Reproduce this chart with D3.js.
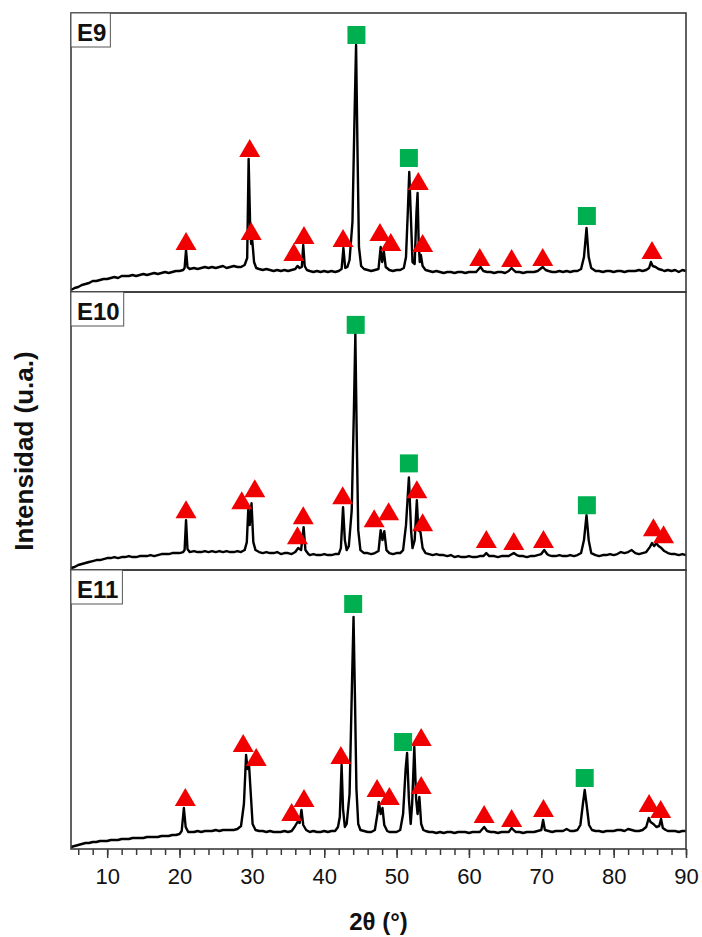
<!DOCTYPE html>
<html>
<head>
<meta charset="utf-8">
<script src="https://cdn.jsdelivr.net/npm/d3@7"></script>
<style>
  html, body { margin: 0; padding: 0; background: #fff; }
  svg { display: block; }
  text { font-family: "Liberation Sans", Arial, Helvetica, sans-serif; }
</style>
</head>
<body>
<div id="chart"></div>
<script>
// Diffraction patterns: [2θ (°), intensity (a.u.)]
const e9Trace = [[5,2],[5.5,4],[6,5],[6.5,7],[7,8],[7.5,9],[8,11],[8.5,11],[9,12],[9.5,13],[10,13],[10.5,14],[11,15],[11.5,14],[12,16],[12.5,16],[13,16],[13.5,17],[14,16],[14.5,17],[15,18],[15.5,17],[16,18],[16.5,19],[17,18],[17.5,19],[18,20],[18.5,19],[19,20],[19.5,21],[20,21],[20.5,22],[20.7,24],[20.9,42],[21.1,25],[21.4,23],[22,24],[22.5,23],[23,24],[23.5,25],[24,24],[24.5,25],[25,24],[25.5,25],[26,26],[26.5,24],[27,25],[27.5,26],[28,25],[28.5,25],[29,27],[29.35,34],[29.55,133],[29.75,70],[29.9,48],[30.05,52],[30.3,30],[30.6,24],[31,23],[31.5,22],[32,23],[32.5,22],[33,21],[33.5,22],[34,21],[34.5,22],[35,21],[35.5,22],[36,23],[36.3,26],[36.6,24],[36.9,25],[37.1,47],[37.3,26],[37.6,22],[38,21],[38.5,20],[39,21],[39.5,20],[40,21],[40.5,20],[41,21],[41.5,20],[42,21],[42.4,23],[42.65,44],[42.9,24],[43.2,25],[43.5,32],[43.9,70],[44.2,180],[44.4,247],[44.6,140],[44.8,45],[45.1,26],[45.5,23],[46,22],[46.5,21],[47,22],[47.5,23],[47.8,45],[48.0,30],[48.25,40],[48.5,25],[49,22],[49.5,21],[50,22],[50.5,22],[51,24],[51.3,35],[51.55,80],[51.75,120],[51.95,80],[52.2,30],[52.5,28],[52.75,80],[52.9,99],[53.05,50],[53.2,30],[53.35,37],[53.6,26],[54,22],[54.5,21],[55,20],[55.5,21],[56,20],[56.5,19],[57,20],[57.5,20],[58,19],[58.5,20],[59,20],[59.5,19],[60,20],[60.5,20],[61,20],[61.6,25],[62,21],[62.5,20],[63,20],[63.5,19],[64,20],[64.5,20],[65,19],[65.5,21],[65.9,24],[66.3,21],[66.5,20],[67,20],[67.5,19],[68,20],[68.5,20],[69,20],[69.5,21],[70.2,25],[70.6,22],[71,21],[71.5,20],[72,20],[72.5,21],[73,20],[73.5,21],[74,20],[74.5,21],[75,21],[75.5,23],[75.9,35],[76.25,64],[76.55,35],[76.9,24],[77.5,21],[78,21],[78.5,20],[79,21],[79.5,21],[80,20],[80.5,21],[81,21],[81.5,20],[82,21],[82.5,21],[83,21],[83.5,22],[84,21],[84.5,22],[84.9,24],[85.15,30],[85.4,26],[85.8,25],[86.2,23],[86.7,22],[87,21],[87.5,22],[88,21],[88.5,22],[89,20],[89.5,22],[90,21]];

const e10Trace = [[5,2],[5.5,3],[6,5],[6.5,6],[7,7],[7.5,8],[8,9],[8.5,10],[9,10],[9.5,11],[10,12],[10.5,12],[11,13],[11.5,12],[12,13],[12.5,13],[13,14],[13.5,13],[14,13],[14.5,14],[15,14],[15.5,14],[16,15],[16.5,14],[17,15],[17.5,16],[18,16],[18.5,16],[19,17],[19.5,17],[20,17],[20.5,18],[20.7,20],[20.9,50],[21.1,21],[21.4,18],[22,19],[22.5,18],[23,18],[23.5,19],[24,18],[24.5,19],[25,18],[25.5,19],[26,18],[26.5,19],[27,18],[27.5,18],[28,19],[28.5,18],[29,20],[29.3,28],[29.5,61],[29.7,45],[29.95,67],[30.2,28],[30.5,20],[31,18],[31.5,17],[32,18],[32.5,17],[33,17],[33.5,18],[34,16],[34.5,17],[35,17],[35.5,16],[36,18],[36.4,22],[36.8,20],[37.15,43],[37.4,20],[37.8,16],[38,15],[38.5,16],[39,15],[39.5,15],[40,16],[40.5,15],[41,15],[41.5,16],[42,16],[42.3,22],[42.6,63],[42.85,30],[43.1,20],[43.4,24],[43.8,60],[44.1,160],[44.3,237],[44.5,130],[44.7,40],[45.0,20],[45.5,17],[46,17],[46.5,16],[47,17],[47.5,19],[47.8,40],[48.05,30],[48.3,39],[48.6,20],[49,17],[49.5,16],[50,17],[50.5,17],[50.9,20],[51.3,45],[51.7,93],[52.0,40],[52.2,22],[52.5,30],[52.8,70],[53.0,40],[53.3,38],[53.6,22],[54,17],[54.5,16],[55,15],[55.5,16],[56,15],[56.5,15],[57,14],[57.5,15],[58,13],[58.5,14],[59,13],[59.5,13],[60,14],[60.5,13],[61,13],[61.5,14],[62,14],[62.4,17],[62.8,14],[63,14],[63.5,14],[64,13],[64.5,14],[65,14],[65.5,14],[66.2,17],[66.6,15],[67,14],[67.5,14],[68,13],[68.5,14],[69,14],[69.5,15],[70,16],[70.4,20],[70.8,16],[71,15],[71.5,14],[72,14],[72.5,15],[73,14],[73.5,14],[74,15],[74.5,14],[75,15],[75.5,17],[75.9,30],[76.25,55],[76.55,30],[76.9,17],[77.5,15],[78,14],[78.5,15],[79,15],[79.5,16],[80,15],[80.5,16],[81,18],[81.5,17],[82,18],[82.5,20],[83,17],[83.5,16],[84,17],[84.5,18],[85,23],[85.3,27],[85.6,24],[85.9,27],[86.2,24],[86.6,22],[87,19],[87.5,17],[88,16],[88.5,16],[89,15],[89.5,16],[90,15]];

const e11Trace = [[5,2],[5.5,3],[6,4],[6.5,5],[7,6],[7.5,6],[8,7],[8.5,7],[9,8],[9.5,8],[10,8],[10.5,9],[11,9],[11.5,9],[12,10],[12.5,10],[13,10],[13.5,11],[14,11],[14.5,11],[15,11],[15.5,12],[16,12],[16.5,12],[17,12],[17.5,13],[18,13],[18.5,13],[19,14],[19.5,14],[20,15],[20.3,18],[20.6,41],[20.85,22],[21.2,17],[21.5,17],[22,17],[22.5,18],[23,17],[23.5,18],[24,18],[24.5,18],[25,19],[25.5,18],[26,19],[26.5,19],[27,19],[27.5,19],[28,20],[28.5,23],[28.9,45],[29.2,94],[29.4,80],[29.6,85],[29.85,55],[30.1,25],[30.5,19],[31,18],[31.5,18],[32,17],[32.5,18],[33,17],[33.5,17],[34,17],[34.5,18],[35,17],[35.5,18],[35.9,22],[36.3,27],[36.6,26],[36.85,39],[37.1,24],[37.5,19],[38,17],[38.5,18],[39,17],[39.5,17],[40,18],[40.5,17],[41,18],[41.5,18],[41.9,22],[42.15,32],[42.4,84],[42.6,40],[42.85,22],[43.1,25],[43.5,55],[43.85,170],[44.05,232],[44.25,150],[44.45,60],[44.7,25],[45,19],[45.5,18],[46,17],[46.5,17],[47,19],[47.35,35],[47.55,47],[47.8,35],[48.05,41],[48.3,24],[48.7,18],[49,17],[49.5,17],[50,17],[50.5,19],[50.9,35],[51.25,80],[51.45,96],[51.7,50],[51.95,25],[52.15,45],[52.45,102],[52.7,50],[52.9,35],[53.15,52],[53.4,25],[53.7,19],[54,18],[54.5,17],[55,17],[55.5,16],[56,17],[56.5,16],[57,17],[57.5,17],[58,16],[58.5,17],[59,17],[59.5,17],[60,16],[60.5,17],[61,17],[61.5,17],[62.1,22],[62.5,18],[63,17],[63.5,17],[64,16],[64.5,17],[65,17],[65.5,17],[65.9,21],[66.3,18],[66.5,17],[67,17],[67.5,16],[68,17],[68.5,17],[69,17],[69.5,18],[70,19],[70.25,29],[70.5,19],[71,18],[71.5,17],[72,18],[72.5,18],[73,18],[73.5,20],[74,18],[74.5,18],[75,19],[75.4,24],[75.75,45],[76.0,59],[76.25,45],[76.6,24],[77,19],[77.5,18],[78,18],[78.5,17],[79,18],[79.5,18],[80,18],[80.5,19],[81,19],[81.5,18],[82,20],[82.5,19],[83,18],[83.5,18],[84,19],[84.5,22],[84.85,31],[85.1,27],[85.5,25],[85.9,22],[86.3,23],[86.55,30],[86.8,21],[87.2,19],[87.5,18],[88,18],[88.5,18],[89,17],[89.5,18],[90,18]];

// Phase markers placed above the reflections: [2θ, intensity]
const e9Squares = [[44.45,257],[51.7,134],[76.3,76]];
const e9Triangles = [[20.9,51],[29.7,144],[29.9,61],[35.8,40],[37.2,57],[42.6,54],[47.7,60],[49.2,50],[53.0,111],[53.6,49],[61.5,35],[65.9,34],[70.2,35],[85.3,42]];

const e10Squares = [[44.35,246],[51.7,107],[76.3,65]];
const e10Triangles = [[20.9,61],[28.6,70],[30.4,82],[36.3,35],[37.1,55],[42.55,75],[46.9,52],[48.9,59],[52.8,81],[53.6,48],[62.4,31],[66.2,29],[70.3,31],[85.5,43],[86.9,36]];

const e11Squares = [[44.0,245],[50.9,107],[76.0,71]];
const e11Triangles = [[20.8,52],[28.8,106],[30.6,92],[35.5,37],[37.2,51],[42.3,94],[47.3,61],[49.0,53],[53.4,112],[53.4,64],[62.1,35],[65.9,31],[70.3,41],[84.9,46],[86.5,40]];

const sampleNames = ["E9", "E10", "E11"];
const xMajorTicks = [10, 20, 30, 40, 50, 60, 70, 80, 90];
const xMinorTicks = d3.range(6, 91, 2);
const xTitle = "2\u03B8 (\u00B0)";
const yTitle = "Intensidad (u.a.)";

const panels = [
  { name: sampleNames[0], trace: e9Trace, squares: e9Squares, triangles: e9Triangles },
  { name: sampleNames[1], trace: e10Trace, squares: e10Squares, triangles: e10Triangles },
  { name: sampleNames[2], trace: e11Trace, squares: e11Squares, triangles: e11Triangles }
];

const W = 702, H = 937;
const left = 71, right = 686;
const panelEdges = [13, 292, 570, 849];

const svg = d3.select("#chart").append("svg")
  .attr("width", W).attr("height", H)
  .attr("viewBox", `0 0 ${W} ${H}`);

svg.append("rect").attr("width", W).attr("height", H).attr("fill", "#fff");

const x = d3.scaleLinear().domain([5, 90]).range([left, right]);

const GREEN = "#00b050";
const RED = "#f00000";
const triPath = "M0,-9L10.5,9L-10.5,9Z";

panels.forEach((p, i) => {
  const top = panelEdges[i], bottom = panelEdges[i + 1];
  const y = d3.scaleLinear().domain([0, 279]).range([bottom, top]);
  const g = svg.append("g");

  const line = d3.line().x(d => x(d[0])).y(d => y(d[1]));

  g.append("path")
    .datum(p.trace)
    .attr("fill", "none")
    .attr("stroke", "#000")
    .attr("stroke-width", 2.4)
    .attr("stroke-linejoin", "round")
    .attr("d", line);

  g.selectAll("path.tri")
    .data(p.triangles)
    .join("path")
    .attr("class", "tri")
    .attr("d", triPath)
    .attr("transform", d => `translate(${x(d[0])},${y(d[1])})`)
    .attr("fill", RED);

  g.selectAll("rect.sq")
    .data(p.squares)
    .join("rect")
    .attr("class", "sq")
    .attr("x", d => x(d[0]) - 9)
    .attr("y", d => y(d[1]) - 9)
    .attr("width", 18).attr("height", 18)
    .attr("fill", GREEN);

  // frame
  g.append("rect")
    .attr("x", left).attr("y", top)
    .attr("width", right - left).attr("height", bottom - top)
    .attr("fill", "none")
    .attr("stroke", "#3a3a3a")
    .attr("stroke-width", 1.6);

  // sample label box
  const lbl = g.append("g");
  const txt = lbl.append("text")
    .attr("x", left + 6)
    .attr("y", top + 28)
    .attr("font-size", 24)
    .attr("font-weight", "bold")
    .attr("fill", "#111")
    .text(p.name);
  const bb = txt.node().getBBox();
  lbl.insert("rect", "text")
    .attr("x", left)
    .attr("y", top)
    .attr("width", bb.x + bb.width + 4 - left)
    .attr("height", 34)
    .attr("fill", "#fff")
    .attr("stroke", "#555")
    .attr("stroke-width", 1);
});

// bottom axis: minor and major ticks
const axisY = panelEdges[3];
const minorAxis = d3.axisBottom(x).tickValues(xMinorTicks).tickSize(6).tickFormat("");
const majorAxis = d3.axisBottom(x).tickValues(xMajorTicks).tickSize(9).tickPadding(10).tickFormat(d3.format("d"));

const gMinor = svg.append("g").attr("transform", `translate(0,${axisY})`).call(minorAxis);
const gMajor = svg.append("g").attr("transform", `translate(0,${axisY})`).call(majorAxis);
[gMinor, gMajor].forEach(a => {
  a.select(".domain").remove();
  a.selectAll(".tick line").attr("stroke", "#3a3a3a").attr("stroke-width", 1.5);
});
gMajor.selectAll(".tick text")
  .attr("font-size", 22)
  .attr("font-family", "'Liberation Sans', Arial, sans-serif")
  .attr("fill", "#111");

svg.append("text")
  .attr("x", (left + right) / 2)
  .attr("y", 930)
  .attr("text-anchor", "middle")
  .attr("font-size", 24)
  .attr("font-weight", "bold")
  .attr("fill", "#111")
  .text(xTitle);

svg.append("text")
  .attr("transform", `translate(33,451) rotate(-90)`)
  .attr("text-anchor", "middle")
  .attr("font-size", 26)
  .attr("font-weight", "bold")
  .attr("fill", "#111")
  .text(yTitle);
</script>
</body>
</html>
